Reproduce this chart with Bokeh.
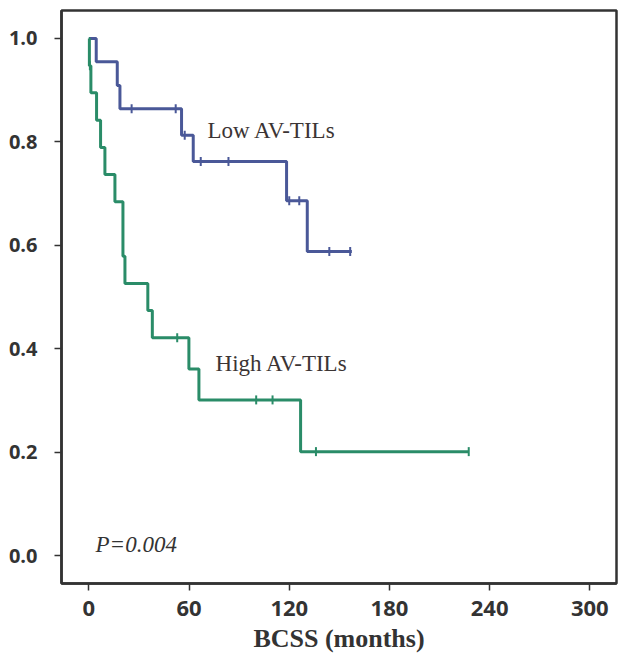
import numpy as np
from bokeh.plotting import figure
from bokeh.models import Range1d, FixedTicker, Label
from bokeh.embed import file_html
from bokeh.resources import INLINE

# ---- data ----
low_time = [0, 4.4, 17, 18.6, 55.5, 62.5, 118.4, 130.8, 157.5]
low_surv = [1.0, 0.955, 0.909, 0.864, 0.813, 0.762, 0.686, 0.588, 0.588]
low_censor = [25.6, 52, 57.4, 67, 83.6, 120, 126, 144, 156.5]

high_time = [0, 0.3, 1.2, 4.6, 7, 9.6, 15.6, 20.4, 21.6, 35.3, 38, 59.9, 65.9, 126.8, 227.5]
high_surv = [1.0, 0.947, 0.895, 0.842, 0.789, 0.737, 0.684, 0.579, 0.526, 0.474, 0.421,
             0.361, 0.301, 0.201, 0.201]
high_censor = [0.6, 52.9, 100.2, 110, 136, 227.5]

x_ticks = [0, 60, 120, 180, 240, 300]
y_ticks = [0.0, 0.2, 0.4, 0.6, 0.8, 1.0]
y_labels = {0.0: "0.0", 0.2: "0.2", 0.4: "0.4", 0.6: "0.6", 0.8: "0.8", 1.0: "1.0"}

LOW_COLOR = "#4a5898"
HIGH_COLOR = "#2a8c68"
DARK = "#333333"


def step_value(times, surv, t):
    idx = np.searchsorted(np.asarray(times), np.asarray(t), side="right") - 1
    return list(np.asarray(surv)[idx])


p = figure(width=618, height=665, output_backend="svg", toolbar_location=None,
           x_range=Range1d(-16.4, 316), y_range=Range1d(-0.054, 1.054),
           min_border_left=61, min_border_right=2, min_border_top=10, min_border_bottom=82)

p.background_fill_color = "white"
p.border_fill_color = "white"
p.xgrid.visible = False
p.ygrid.visible = False
p.outline_line_color = DARK
p.outline_line_width = 2.5

# curves
p.step(low_time, low_surv, mode="after", line_color=LOW_COLOR, line_width=3)
p.step(high_time, high_surv, mode="after", line_color=HIGH_COLOR, line_width=3)

# censor marks
p.scatter(low_censor, step_value(low_time, low_surv, low_censor), marker="dash",
          angle=np.pi / 2, size=9, line_color=LOW_COLOR, line_width=2)
p.scatter(high_censor, step_value(high_time, high_surv, high_censor), marker="dash",
          angle=np.pi / 2, size=9, line_color=HIGH_COLOR, line_width=2)

# axes
for ax in (p.xaxis[0], p.yaxis[0]):
    ax.axis_line_color = DARK
    ax.axis_line_width = 2.5
    ax.major_tick_line_color = DARK
    ax.major_tick_line_width = 1.5
    ax.major_tick_in = 0
    ax.major_tick_out = 7
    ax.minor_tick_line_color = None
    ax.major_label_text_font = "Open Sans"
    ax.major_label_text_font_style = "bold"
    ax.major_label_text_font_size = "20px"
    ax.major_label_text_color = DARK

p.xaxis.major_label_text_font_size = "22px"
p.xaxis.ticker = FixedTicker(ticks=x_ticks)
p.yaxis.ticker = FixedTicker(ticks=y_ticks)
p.yaxis.major_label_overrides = y_labels
p.yaxis.major_label_standoff = 17
p.xaxis.major_label_standoff = 10

p.xaxis.axis_label = "BCSS (months)"
p.xaxis.axis_label_text_font = "Liberation Serif"
p.xaxis.axis_label_text_font_style = "bold"
p.xaxis.axis_label_text_font_size = "26px"
p.xaxis.axis_label_text_color = DARK
p.xaxis.axis_label_standoff = 5

# annotations
p.add_layout(Label(x=71, y=0.822, text="Low AV-TILs", text_font="Liberation Serif",
                   text_font_size="23px", text_color="#3b3434", text_baseline="middle"))
p.add_layout(Label(x=75.9, y=0.371, text="High AV-TILs", text_font="Liberation Serif",
                   text_font_size="23px", text_color="#3b3434", text_baseline="middle"))
p.add_layout(Label(x=4, y=0.021, text="P=0.004", text_font="Liberation Serif",
                   text_font_style="italic", text_font_size="23px", text_color=DARK,
                   text_baseline="middle"))

open("out.html", "w").write(file_html(p, INLINE))
